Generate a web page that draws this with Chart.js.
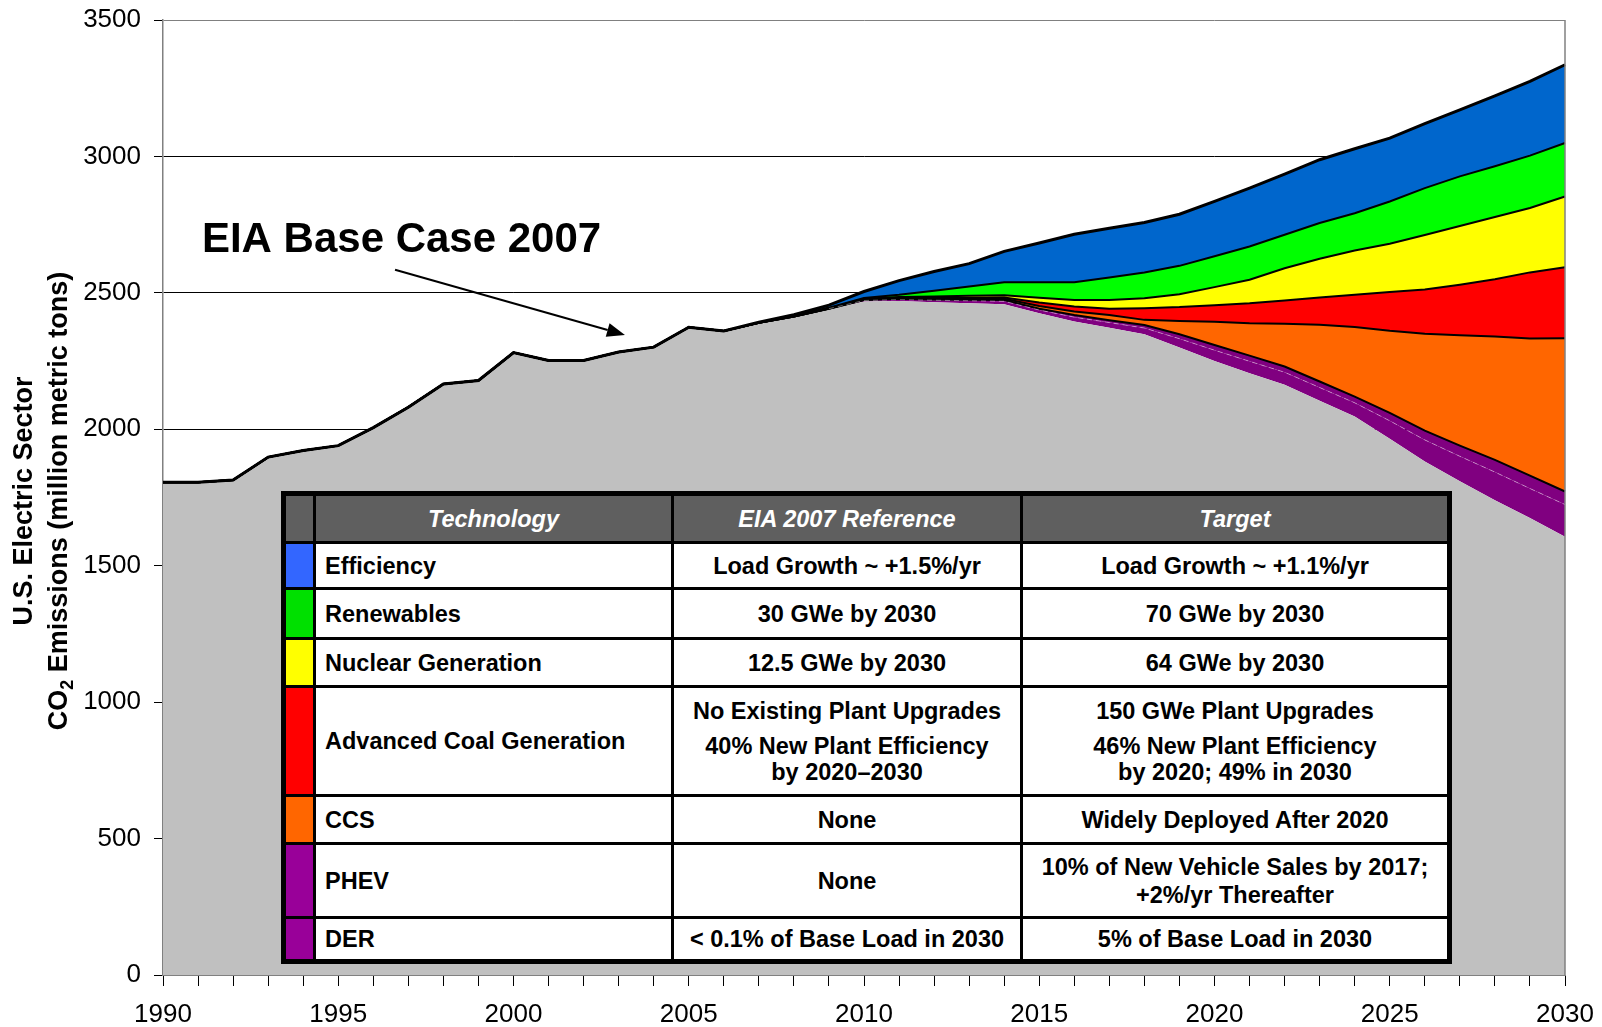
<!DOCTYPE html>
<html>
<head>
<meta charset="utf-8">
<title>U.S. Electric Sector CO2 Emissions</title>
<script src="https://cdn.jsdelivr.net/npm/chart.js@4.4.1/dist/chart.umd.min.js"></script>
<style>
  html, body { margin:0; padding:0; background:#fff; }
  #wrap { position:relative; width:1602px; height:1027px; overflow:hidden; }
  #chart { position:absolute; left:0; top:0; }
  #tech {
    position:absolute; left:281px; top:491px; width:1171px; height:473px; box-sizing:border-box;
    background:#000; padding:5px; display:grid;
    grid-template-columns: 27px 355px 346px 424px;
    grid-template-rows: 45px 43px 47px 45px 106px 45px 71px 40px;
    gap:3px;
    font-family:"Liberation Sans", Arial, sans-serif; font-weight:bold; font-size:23.5px; color:#000;
  }
  #tech > div { background:#fff; display:flex; flex-direction:column; justify-content:center; align-items:center; text-align:center; line-height:26px; white-space:pre-line; }
  #tech > div.hd { background:#5f5f5f; color:#fff; font-style:italic; }
  #tech > div.nm { align-items:flex-start; text-align:left; padding-left:9px; }
  #tech > div.tall { line-height:28px; }
  #tech p { margin:0; }
  #tech p + p { margin-top:9px; }
</style>
</head>
<body>
<div id="wrap">
  <canvas id="chart" width="1602" height="1027"></canvas>
  <div id="tech"></div>
</div>
<script>
// ---------- DATA ----------
const years = ['1990','1991','1992','1993','1994','1995','1996','1997','1998','1999',
               '2000','2001','2002','2003','2004','2005','2006','2007','2008','2009',
               '2010','2011','2012','2013','2014','2015','2016','2017','2018','2019',
               '2020','2021','2022','2023','2024','2025','2026','2027','2028','2029','2030'];

// remaining emissions (grey)
const remaining = [1806,1806,1814,1898,1922,1940,2006,2081,2166,2179,
                   2281,2252,2252,2283,2301,2374,2360,2390,2412,2440,
                   2468,2470,2466,2462,2458,2425,2395,2372,2348,2300,
                   2250,2205,2163,2105,2047,1965,1882,1810,1740,1675,1606];
const der = [0,0,0,0,0,0,0,0,0,0,
             0,0,0,0,0,0,0,0,1,2,
             4,5,7,9,11,12,16,19,23,32,
             40,44,46,48,50,66,79,91,103,108,118];
const phev = [0,0,0,0,0,0,0,0,0,0,
              0,0,0,0,0,0,0,0,0,0,
              2,3,3,4,5,5,8,9,11,16,
              19,21,21,22,23,29,34,39,45,47,48];
const ccs = [0,0,0,0,0,0,0,0,0,0,
             0,0,0,0,0,0,0,0,0,1,
             1,2,3,3,4,10,13,19,19,49,
             85,119,157,208,255,301,355,405,452,503,562];
const advCoal = [0,0,0,0,0,0,0,0,0,0,
                 0,0,0,0,0,0,0,0,0,0,
                 1,2,3,4,5,13,18,23,43,51,
                 61,73,85,100,118,142,162,185,210,242,260];
const nuclear = [0,0,0,0,0,0,0,0,0,0,
                 0,0,0,0,0,0,0,0,0,0,
                 2,3,5,7,8,17,24,32,36,47,
                 66,86,118,142,162,177,200,215,228,236,259];
const renewables = [0,0,0,0,0,0,0,0,0,0,
                    0,0,0,0,0,0,0,0,2,3,
                    3,8,21,34,48,57,65,82,95,104,
                    113,122,123,131,137,155,172,182,186,192,196];
const efficiency = [0,0,0,0,0,0,0,0,0,0,
                    0,0,0,0,0,0,0,2,5,9,
                    24,52,70,84,113,144,176,181,183,189,
                    201,214,222,232,236,232,236,244,258,272,287];

const yTickValues = [0,500,1000,1500,2000,2500,3000,3500];
const xLabelYears = ['1990','1995','2000','2005','2010','2015','2020','2025','2030'];

// table content
const tableHeader = ['Technology','EIA 2007 Reference','Target'];
const techNames = ['Efficiency','Renewables','Nuclear Generation','Advanced Coal Generation','CCS','PHEV','DER'];
const eiaReference = [['Load Growth ~ +1.5%/yr'],['30 GWe by 2030'],['12.5 GWe by 2030'],
  ['No Existing Plant Upgrades','40% New Plant Efficiency\nby 2020\u20132030'],['None'],['None'],['< 0.1% of Base Load in 2030']];
const targets = [['Load Growth ~ +1.1%/yr'],['70 GWe by 2030'],['64 GWe by 2030'],
  ['150 GWe Plant Upgrades','46% New Plant Efficiency\nby 2020; 49% in 2030'],['Widely Deployed After 2020'],
  ['10% of New Vehicle Sales by 2017;\n+2%/yr Thereafter'],['5% of Base Load in 2030']];

// ---------- STYLES ----------
const FONT = '"Liberation Sans", Arial, sans-serif';
const swatchColors = ['#3366FF','#00E000','#FFFF00','#FF0000','#FF6600','#990099','#990099'];

// ---------- TABLE ----------
(function buildTable(){
  const t = document.getElementById('tech');
  const cell = (cls, parts) => {
    const d = document.createElement('div');
    if (cls) d.className = cls;
    (parts || []).forEach(p => { const e = document.createElement('p'); e.textContent = p; d.appendChild(e); });
    t.appendChild(d); return d;
  };
  cell('hd', []);
  tableHeader.forEach(h => cell('hd', [h]));
  techNames.forEach((n, i) => {
    const sw = cell('', []); sw.style.background = swatchColors[i];
    const tall = n === 'PHEV' ? 'tall' : '';
    cell('nm', [n]);
    cell(tall, eiaReference[i]);
    cell(tall, targets[i]);
  });
})();

// ---------- CHART ----------
const blackLine = {borderColor:'#000', borderWidth:2};
const datasets = [
  {label:'Remaining', data:remaining, fill:'origin', backgroundColor:'#C0C0C0', borderWidth:0, borderColor:'rgba(0,0,0,0)'},
  {label:'DER', data:der, fill:'-1', backgroundColor:'#800080', borderWidth:1, borderDash:[5,4],
   borderColor:'rgba(255,255,255,0.4)',
   segment:{borderColor: c => (phev[c.p0DataIndex] > 0 || phev[c.p1DataIndex] > 0) ? 'rgba(255,255,255,0.4)' : 'rgba(0,0,0,0)'}},
  Object.assign({label:'PHEV', data:phev, fill:'-1', backgroundColor:'#800080'}, blackLine),
  Object.assign({label:'CCS', data:ccs, fill:'-1', backgroundColor:'#FF6600'}, blackLine),
  Object.assign({label:'Advanced Coal Generation', data:advCoal, fill:'-1', backgroundColor:'#FF0000'}, blackLine),
  Object.assign({label:'Nuclear Generation', data:nuclear, fill:'-1', backgroundColor:'#FFFF00'}, blackLine),
  Object.assign({label:'Renewables', data:renewables, fill:'-1', backgroundColor:'#00FF00'}, blackLine),
  {label:'Efficiency', data:efficiency, fill:'-1', backgroundColor:'#0066CC', borderColor:'#000', borderWidth:3}
];

const annotation = {text:'EIA Base Case 2007', textAt:[1991.11, 2651], arrowFrom:[1996.62, 2585], arrowTo:[2003.18, 2346]};

const decor = {
  id:'decor',
  afterDatasetsDraw(chart){
    const {ctx, chartArea:a, scales:{x, y}} = chart;
    const px = yr => x.getPixelForValue(yr - Number(years[0]));
    ctx.save();
    ctx.strokeStyle = '#808080'; ctx.lineWidth = 1.5;
    ctx.beginPath(); ctx.moveTo(a.right, a.top); ctx.lineTo(a.right, a.bottom); ctx.stroke();
    ctx.fillStyle = '#000';
    ctx.font = 'bold 42px ' + FONT; ctx.textAlign = 'left'; ctx.textBaseline = 'alphabetic';
    ctx.fillText(annotation.text, px(annotation.textAt[0]), y.getPixelForValue(annotation.textAt[1]));
    const x0 = px(annotation.arrowFrom[0]), y0 = y.getPixelForValue(annotation.arrowFrom[1]);
    const x1 = px(annotation.arrowTo[0]), y1 = y.getPixelForValue(annotation.arrowTo[1]);
    const ang = Math.atan2(y1 - y0, x1 - x0), L = 18, W = 7;
    const bx = x1 - L*Math.cos(ang), by = y1 - L*Math.sin(ang);
    ctx.strokeStyle = '#000'; ctx.lineWidth = 2;
    ctx.beginPath(); ctx.moveTo(x0, y0); ctx.lineTo(bx, by); ctx.stroke();
    ctx.beginPath(); ctx.moveTo(x1, y1);
    ctx.lineTo(bx + W*Math.sin(ang), by - W*Math.cos(ang));
    ctx.lineTo(bx - W*Math.sin(ang), by + W*Math.cos(ang));
    ctx.closePath(); ctx.fill();
    ctx.restore();
  },
  afterDraw(chart){
    const {ctx} = chart;
    const cy = 501;
    ctx.save();
    ctx.fillStyle = '#000';
    ctx.translate(25, cy); ctx.rotate(-Math.PI/2);
    ctx.font = 'bold 27px ' + FONT; ctx.textAlign = 'center'; ctx.textBaseline = 'middle';
    ctx.fillText('U.S. Electric Sector', 0, 0);
    ctx.restore();
    ctx.save();
    ctx.fillStyle = '#000';
    ctx.translate(60, cy); ctx.rotate(-Math.PI/2);
    ctx.textBaseline = 'middle'; ctx.textAlign = 'left';
    const p1 = 'CO', sub = '2', p2 = ' Emissions (million metric tons)';
    ctx.font = 'bold 27px ' + FONT; const w1 = ctx.measureText(p1).width, w2 = ctx.measureText(p2).width;
    ctx.font = 'bold 18px ' + FONT; const ws = ctx.measureText(sub).width;
    const start = -(w1 + ws + w2) / 2;
    ctx.font = 'bold 27px ' + FONT;
    ctx.fillText(p1, start, 0);
    ctx.fillText(p2, start + w1 + ws, 0);
    ctx.font = 'bold 18px ' + FONT;
    ctx.fillText(sub, start + w1, 8);
    ctx.restore();
  }
};

new Chart(document.getElementById('chart'), {
  type:'line',
  data:{labels:years, datasets},
  options:{
    responsive:false, animation:false, devicePixelRatio:1,
    layout:{padding:{top:20, right:37, left:0, bottom:0}},
    elements:{point:{radius:0, hoverRadius:0}, line:{tension:0}},
    plugins:{legend:{display:false}, tooltip:{enabled:false}, filler:{drawTime:'beforeDatasetsDraw'}},
    scales:{
      x:{
        type:'category', offset:false,
        grid:{display:true, drawOnChartArea:false, drawTicks:true, tickLength:11, color:'#000', tickColor:'#000', lineWidth:1},
        border:{display:true, color:'#808080', width:1},
        ticks:{autoSkip:false, maxRotation:0, minRotation:0, padding:13, color:'#000',
               font:{family:FONT, size:26},
               callback:(v, i) => xLabelYears.includes(years[i]) ? years[i] : ''},
        afterFit(s){ s.height = 52; s.paddingLeft = 0; s.paddingRight = 0; }
      },
      y:{
        stacked:true, min:0, max:3500,
        afterBuildTicks(s){ s.ticks = yTickValues.map(v => ({value:v})); },
        grid:{color: c => (c.tick && c.tick.value === 3500) ? '#808080' : '#000', lineWidth:1, tickLength:9, tickColor:'#000'},
        border:{display:true, color:'#808080', width:1.5},
        ticks:{padding:13, color:'#000', font:{family:FONT, size:26}, callback: v => String(v)},
        afterFit(s){ s.width = 163; s.paddingTop = 0; s.paddingBottom = 0; }
      }
    }
  },
  plugins:[decor]
});
</script>
</body>
</html>
